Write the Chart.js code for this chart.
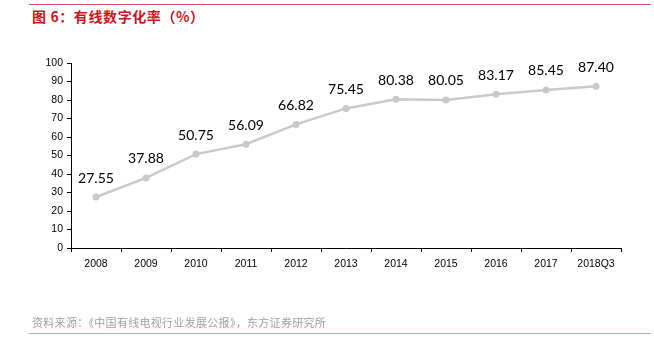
<script src="https://cdn.jsdelivr.net/npm/chart.js"></script>
<style>
  body {
    margin: 0;
    width: 654px;
    height: 351px;
    background: #fff;
    position: relative;
    overflow: hidden;
    font-family: "Noto Sans CJK SC", sans-serif;
  }

  .topline {
    position: absolute;
    left: 29px;
    top: 4px;
    width: 622px;
    height: 1px;
    background: #e0505a;
  }

  .title {
    position: absolute;
    left: 32px;
    top: 7px;
    font-size: 14px;
    font-weight: bold;
    color: #c8161d;
    line-height: 18px;
    letter-spacing: 0.6px;
    white-space: pre;
  }

  .source {
    position: absolute;
    left: 32px;
    top: 315px;
    font-size: 11px;
    color: #a0a0a0;
    line-height: 15px;
    letter-spacing: 0.3px;
  }

  .bottomline {
    position: absolute;
    left: 29px;
    top: 333px;
    width: 622px;
    height: 1px;
    background: #e09a9a;
  }

  #chart {
    position: absolute;
    left: 0;
    top: 0;
  }
</style>
<div class="topline"></div>
<div class="title">图 6：有线数字化率（%）</div>
<canvas id="chart" width="654" height="351"></canvas>
<div class="source">资料来源：《中国有线电视行业发展公报》，东方证券研究所</div>
<div class="bottomline"></div>

<script>
  // data
  const years = ['2008', '2009', '2010', '2011', '2012', '2013', '2014', '2015', '2016', '2017', '2018Q3'];
  const rates = [27.55, 37.88, 50.75, 56.09, 66.82, 75.45, 80.38, 80.05, 83.17, 85.45, 87.40];
  const yTicks = [0, 10, 20, 30, 40, 50, 60, 70, 80, 90, 100];

  // value labels above each point
  const valueLabels = {
    id: 'valueLabels',
    afterDatasetsDraw(chart) {
      const ctx = chart.ctx;
      const meta = chart.getDatasetMeta(0);
      ctx.save();
      ctx.font = '14px Lato, "Liberation Sans", sans-serif';
      ctx.fillStyle = '#000';
      ctx.textAlign = 'center';
      ctx.textBaseline = 'middle';
      meta.data.forEach((pt, i) => {
        ctx.fillText(rates[i].toFixed(2), pt.x, pt.y - 19);
      });
      ctx.restore();
    }
  };

  new Chart(document.getElementById('chart').getContext('2d'), {
    type: 'line',
    data: {
      labels: years,
      datasets: [{
        data: rates,
        borderColor: '#c9c9c9',
        backgroundColor: '#c9c9c9',
        borderWidth: 2.5,
        pointRadius: 3.5,
        pointBorderWidth: 0,
        tension: 0,
        fill: false
      }]
    },
    options: {
      responsive: false,
      animation: false,
      layout: {
        padding: { top: 63, right: 33, left: 0, bottom: 0 }
      },
      plugins: {
        legend: { display: false },
        tooltip: { enabled: false }
      },
      scales: {
        x: {
          offset: true,
          grid: { offset: true, drawOnChartArea: false, drawTicks: true, tickLength: 4, color: '#000' },
          border: { color: '#000', width: 1 },
          ticks: { color: '#000', font: { size: 10.5, family: 'Liberation Sans' }, padding: 6, maxRotation: 0 },
          afterFit(scale) { scale.height = 103; }
        },
        y: {
          min: 0,
          max: 100,
          afterBuildTicks(scale) { scale.ticks = yTicks.map(v => ({ value: v })); },
          grid: { drawOnChartArea: false, drawTicks: true, tickLength: 4, color: '#000' },
          border: { color: '#000', width: 1 },
          ticks: { color: '#000', font: { size: 10.5, family: 'Liberation Sans' }, padding: 4 },
          afterFit(scale) { scale.width = 71; }
        }
      }
    },
    plugins: [valueLabels]
  });
</script>
